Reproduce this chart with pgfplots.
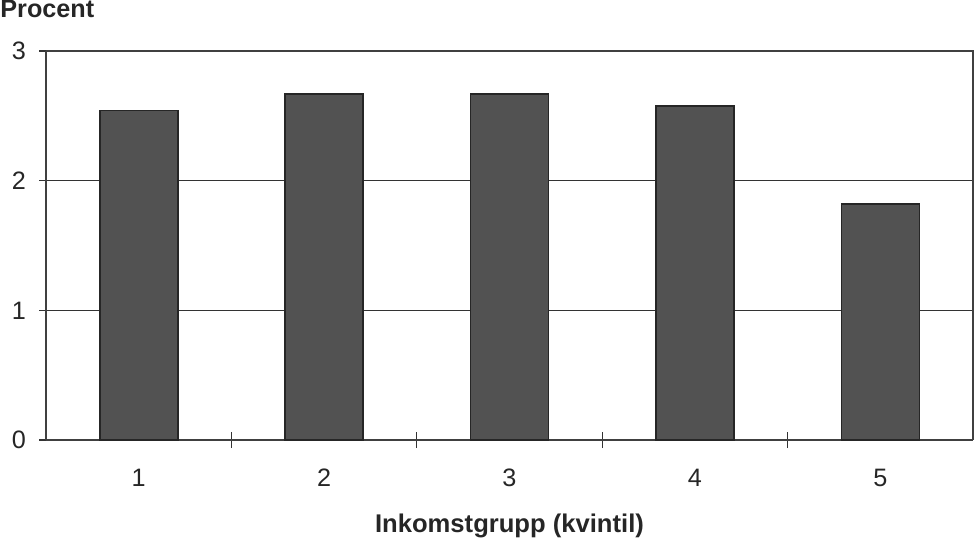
\documentclass[border=0pt]{standalone}
\usepackage{pgfplots}
\pgfplotsset{compat=1.18}
\usepackage{fontspec}
\setmainfont{Liberation Sans}
\begin{document}
\begin{tikzpicture}
\begin{axis}[
  scale only axis,
  width=463.5pt, height=194.5pt,
  xmin=0.5, xmax=5.5, ymin=0, ymax=3,
  xtick={1,2,3,4,5},
  minor xtick={1.5,2.5,3.5,4.5},
  ytick={0,1,2,3},
  major x tick style={draw=none},
  minor tick length=8pt,
  major tick length=3.5pt,
  xtick align=center,
  ytick align=outside,
  ymajorgrids,
  major grid style={black!80, line width=0.5pt},
  axis line style={black!75, line width=0.9pt},
  tick style={black!80, line width=0.6pt},
  axis x line*=bottom,
  axis y line*=left,
  /pgf/number format/assume math mode=true,
  tick label style={font=\fontsize{12.6}{14}\selectfont, text=black!85},
  xticklabel style={yshift=-9pt, text height=9pt, text depth=0pt},
  yticklabel style={xshift=-3pt},
  xlabel={\textbf{Inkomstgrupp (kvintil)}},
  xlabel style={font=\fontsize{12.8}{14}\selectfont, text=black!85, yshift=-7pt},
  ylabel={},
  clip=false,
]
\addplot[ybar, bar width=39pt, fill=black!68, draw=black!85, line width=0.8pt]
  coordinates {(1,2.54) (2,2.67) (3,2.67) (4,2.575) (5,1.82)};
\end{axis}
\draw[black!75, line width=0.9pt] (current axis.north west) -- (current axis.north east) -- (current axis.south east);
\node[anchor=north west, inner sep=0pt, font=\fontsize{12.6}{14}\selectfont\bfseries, text=black!85]
  at ([xshift=-23pt, yshift=25.5pt]current axis.north west) {Procent};
\useasboundingbox ([xshift=-23pt, yshift=-48.5pt]current axis.south west) rectangle ([xshift=2pt, yshift=25.5pt]current axis.north east);
\end{tikzpicture}
\end{document}
